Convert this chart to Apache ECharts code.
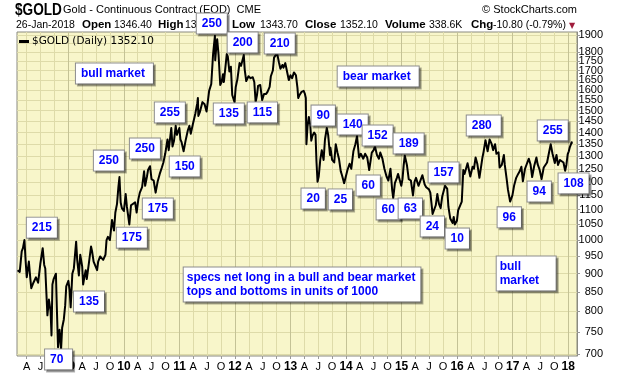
<!DOCTYPE html>
<html><head><meta charset="utf-8">
<script src="https://cdn.jsdelivr.net/npm/echarts@6/dist/echarts.min.js"></script>
<style>html,body{margin:0;padding:0;background:#fff}#c{width:620px;height:376px}</style>
</head><body><div id="c"></div>
<script>
// ---------- data ----------
const dates = [
'2008-02-01','2008-02-15','2008-02-28','2008-03-07','2008-03-17','2008-03-25','2008-04-01','2008-04-15','2008-04-25','2008-05-01','2008-05-15','2008-06-01','2008-06-15','2008-06-30','2008-07-15','2008-07-25','2008-08-01','2008-08-15','2008-08-25','2008-09-05','2008-09-11','2008-09-17','2008-09-25','2008-10-01','2008-10-10','2008-10-16','2008-10-24','2008-11-03','2008-11-13','2008-11-20','2008-12-01','2008-12-10','2008-12-17','2008-12-31',
'2009-01-08','2009-01-15','2009-01-26','2009-02-05','2009-02-20','2009-02-27','2009-03-10','2009-03-19','2009-04-01','2009-04-07','2009-04-15','2009-04-24','2009-05-01','2009-05-15','2009-05-29','2009-06-05','2009-06-15','2009-06-25','2009-07-08','2009-07-15','2009-07-28','2009-08-07','2009-08-17','2009-09-01','2009-09-08','2009-09-17','2009-09-30','2009-10-14','2009-10-27','2009-11-05','2009-11-16','2009-11-25','2009-12-02','2009-12-10','2009-12-18','2009-12-31',
'2010-01-12','2010-01-20','2010-02-05','2010-02-16','2010-03-01','2010-03-15','2010-03-25','2010-04-05','2010-04-15','2010-04-30','2010-05-13','2010-05-20','2010-06-01','2010-06-08','2010-06-21','2010-07-01','2010-07-15','2010-07-28','2010-08-10','2010-08-24','2010-09-07','2010-09-17','2010-09-29','2010-10-14','2010-10-22','2010-11-08','2010-11-16','2010-11-26','2010-12-07','2010-12-15','2010-12-31',
'2011-01-07','2011-01-14','2011-01-28','2011-02-10','2011-02-25','2011-03-07','2011-03-16','2011-03-31','2011-04-15','2011-04-28','2011-05-02','2011-05-05','2011-05-16','2011-06-01','2011-06-15','2011-06-28','2011-07-15','2011-07-29','2011-08-10','2011-08-16','2011-08-22','2011-08-24','2011-08-31','2011-09-06','2011-09-15','2011-09-26','2011-10-05','2011-10-14','2011-10-20','2011-11-08','2011-11-15','2011-11-25','2011-12-05','2011-12-14','2011-12-29',
'2012-01-06','2012-01-17','2012-01-31','2012-02-10','2012-02-28','2012-03-05','2012-03-15','2012-03-30','2012-04-13','2012-04-27','2012-05-07','2012-05-16','2012-05-25','2012-06-01','2012-06-15','2012-06-28','2012-07-10','2012-07-24','2012-08-02','2012-08-16','2012-08-24','2012-09-06','2012-09-14','2012-09-25','2012-10-04','2012-10-16','2012-10-26','2012-11-08','2012-11-15','2012-11-27','2012-12-07','2012-12-20','2012-12-31',
'2013-01-11','2013-01-23','2013-02-05','2013-02-15','2013-02-20','2013-03-01','2013-03-14','2013-03-28','2013-04-05','2013-04-11','2013-04-12','2013-04-15','2013-04-22','2013-05-01','2013-05-10','2013-05-17','2013-05-24','2013-06-05','2013-06-14','2013-06-20','2013-06-27','2013-07-05','2013-07-15','2013-07-25','2013-08-06','2013-08-15','2013-08-27','2013-09-05','2013-09-17','2013-09-20','2013-10-01','2013-10-15','2013-10-25','2013-11-05','2013-11-15','2013-11-27','2013-12-05','2013-12-19','2013-12-31',
'2014-01-10','2014-01-24','2014-02-04','2014-02-18','2014-03-03','2014-03-14','2014-03-27','2014-04-08','2014-04-24','2014-05-06','2014-05-20','2014-06-02','2014-06-19','2014-07-01','2014-07-10','2014-07-23','2014-08-05','2014-08-14','2014-08-28','2014-09-10','2014-09-24','2014-10-06','2014-10-20','2014-10-31','2014-11-07','2014-11-18','2014-12-01','2014-12-09','2014-12-30',
'2015-01-07','2015-01-15','2015-01-22','2015-02-05','2015-02-17','2015-03-03','2015-03-17','2015-03-27','2015-04-06','2015-04-22','2015-05-05','2015-05-18','2015-06-02','2015-06-12','2015-06-30','2015-07-09','2015-07-20','2015-07-24','2015-08-05','2015-08-14','2015-08-24','2015-09-04','2015-09-15','2015-09-25','2015-10-14','2015-10-28','2015-11-05','2015-11-17','2015-12-03','2015-12-10','2015-12-17','2015-12-31',
'2016-01-08','2016-01-20','2016-02-01','2016-02-11','2016-02-19','2016-03-01','2016-03-10','2016-03-17','2016-03-28','2016-04-12','2016-04-21','2016-05-02','2016-05-13','2016-05-27','2016-06-08','2016-06-16','2016-06-24','2016-07-06','2016-07-20','2016-08-02','2016-08-16','2016-08-25','2016-09-07','2016-09-16','2016-09-30','2016-10-07','2016-10-21','2016-11-04','2016-11-10','2016-11-22','2016-12-01','2016-12-15','2016-12-30',
'2017-01-10','2017-01-24','2017-02-06','2017-02-16','2017-02-27','2017-03-09','2017-03-23','2017-04-05','2017-04-17','2017-04-28','2017-05-09','2017-05-22','2017-06-06','2017-06-14','2017-06-27','2017-07-10','2017-07-24','2017-08-04','2017-08-15','2017-08-28','2017-09-08','2017-09-20','2017-10-05','2017-10-16','2017-10-26','2017-11-08','2017-11-21','2017-12-01','2017-12-12','2017-12-20','2017-12-29',
'2018-01-05','2018-01-12','2018-01-19','2018-01-24','2018-01-26'
];
const closes = [
910,905,965,975,1000,935,890,935,885,860,875,890,875,930,975,925,915,790,830,800,742,870,885,880,900,810,715,755,710,760,780,815,865,880,
855,810,900,915,995,940,895,955,920,870,890,910,885,930,980,965,935,940,910,935,950,955,940,955,1000,1010,1000,1065,1030,1090,1120,1180,1218,1125,1105,1095,
1155,1110,1050,1115,1120,1125,1090,1135,1160,1180,1240,1185,1220,1245,1260,1210,1205,1160,1200,1230,1255,1275,1310,1370,1325,1420,1340,1365,1430,1390,1420,
1370,1360,1320,1365,1410,1430,1395,1440,1485,1535,1560,1475,1495,1540,1530,1495,1595,1630,1790,1785,1895,1755,1830,1875,1785,1625,1640,1680,1640,1790,1775,1695,1720,1575,1540,
1615,1655,1740,1725,1785,1705,1645,1670,1660,1665,1640,1540,1575,1620,1625,1550,1580,1580,1590,1615,1670,1700,1770,1760,1795,1745,1710,1730,1715,1740,1700,1650,1675,
1660,1690,1675,1610,1560,1575,1590,1595,1580,1560,1500,1350,1425,1470,1435,1365,1385,1400,1390,1280,1200,1220,1285,1325,1285,1370,1420,1390,1305,1335,1285,1275,1350,1315,1290,1240,1225,1195,1202,
1245,1270,1250,1320,1350,1385,1295,1310,1290,1310,1295,1245,1315,1325,1340,1305,1290,1315,1290,1250,1220,1205,1250,1170,1140,1195,1215,1230,1185,
1210,1265,1303,1265,1210,1205,1150,1200,1215,1185,1190,1225,1190,1180,1172,1160,1105,1085,1090,1115,1155,1120,1105,1145,1185,1175,1110,1070,1055,1075,1050,1062,
1097,1100,1128,1245,1230,1232,1272,1265,1220,1258,1250,1295,1270,1215,1262,1295,1320,1367,1320,1370,1350,1325,1350,1310,1316,1255,1265,1305,1265,1212,1170,1128,1150,
1185,1215,1230,1240,1258,1202,1250,1255,1290,1268,1218,1260,1295,1268,1246,1210,1255,1258,1275,1315,1350,1310,1273,1305,1265,1285,1280,1275,1242,1265,1309,
1320,1338,1332,1358,1352.1
];
const yTickValues = [700,750,800,850,900,950,1000,1050,1100,1150,1200,1250,1300,1350,1400,1450,1500,1550,1600,1650,1700,1750,1800,1850,1900];
const monthLetters = {3:'A', 6:'J', 9:'O'};
const xStart = '2008-01-28', xEnd = '2018-02-28';
const priceMin = 700, priceMax = 1900;

// annotation boxes: text, anchor date (box left), anchor price (box top)
const annotTexts = ['bull market','215','70','135','250','175','250','175','255','150','250','135','200','115','210','20','90','25','bear market','140','60','152','60','189','63','24','157','10','280','bull\nmarket','96','94','255','108','specs net long in a bull and bear market\ntops and bottoms in units of 1000'];
const annotDates = ['2009-02-22','2008-04-05','2008-08-03','2009-02-09','2009-06-20','2009-11-18','2010-02-12','2010-05-08','2010-07-26','2010-11-01','2011-04-28','2011-08-18','2011-11-17','2012-03-28','2012-07-18','2013-03-17','2013-05-22','2013-09-12','2013-11-10','2013-11-10','2014-03-14','2014-04-23','2014-07-24','2014-11-13','2014-12-16','2015-05-10','2015-07-01','2015-10-21','2016-03-08','2016-09-21','2016-09-27','2017-04-12','2017-06-18','2017-11-02','2011-02-01'];
const annotPrices = [1735,1071,709,850,1321,1038,1372,1137,1536,1297,2029,1531,1912,1536,1906,1173,1521,1170,1719,1479,1222,1429,1134,1394,1137,1075,1273,1035,1474,948,1106,1199,1452,1230,916];
// box content widths (layout only)
const boxWidths = {'bull market':67, 'bear market':71, 'bull\nmarket':51, '280':24, '70':17};

// ---------- chart ----------
const toMs = s => { const [y,m,d] = s.split('-').map(Number); return Date.UTC(y, m-1, d); };
const xMin = toMs(xStart), xMax = toMs(xEnd);
const pxPerLn = 319.5;
const yMin = Math.log(priceMin) - 2/pxPerLn, yMax = Math.log(priceMax) + 3/pxPerLn;

const quarterTicks = [];
for (let y = 2008; y <= 2018; y++) for (const m of [0,3,6,9]) { const t = Date.UTC(y,m,1); if (t >= xMin && t <= xMax) quarterTicks.push(t); }
const yearTicks = quarterTicks.filter(t => new Date(t).getUTCMonth() === 0);

const lineData = dates.map((d,i) => [toMs(d), Math.log(closes[i])]);
const annotData = annotTexts.map((t,i) => {
  const item = {value:[toMs(annotDates[i]), Math.log(annotPrices[i])], name:t};
  if (boxWidths[t]) item.label = {width: boxWidths[t]};
  if (t.indexOf('\n') >= 0) item.label = Object.assign(item.label || {}, {lineHeight:14, padding:[3,5,3,3]});
  return item;
});

const F = '"Liberation Sans", Arial, sans-serif';
const chart = echarts.init(document.getElementById('c'), null, {renderer:'canvas'});

const hdr2 = [
  ['26-Jan-2018',16,false],['Open',82,true],['1346.40',114,false],['High',158,true],['1357.80',185,false],
  ['Low',232,true],['1343.70',260,false],['Close',305,true],['1352.10',340,false],['Volume',385,true],
  ['338.6K',429,false],['Chg',471,true],['-10.80 (-0.79%)',493,false]
];
const graphics = [
  {type:'text', x:15, y:2, scaleX:0.8, z:10, style:{text:'$GOLD', font:'bold 17px '+F, fill:'#000', textVerticalAlign:'top'}},
  {type:'text', x:63, y:4, z:10, style:{text:'Gold - Continuous Contract (EOD)  CME', font:'11px '+F, fill:'#000', textVerticalAlign:'top'}},
  {type:'text', x:577, y:4, z:10, style:{text:'\u00A9 StockCharts.com', font:'11px '+F, fill:'#000', textAlign:'right', textVerticalAlign:'top'}},
  {type:'text', x:569, y:22, z:10, style:{text:'\u25BC', font:'8px "DejaVu Sans"', fill:'#a01c3c', textVerticalAlign:'top'}}
].concat(hdr2.map(h => ({type:'text', x:h[1], y:h[2] ? 19 : 20, z:10,
  style:{text:h[0], font:(h[2] ? 'bold 11.5px ' : '10.5px ')+F, fill:'#000', textVerticalAlign:'top'}})));

chart.setOption({
  animation:false,
  backgroundColor:'#ffffff',
  grid:{left:17, right:43, top:32, bottom:20, show:true, backgroundColor:'#F8F6CA', borderColor:'#8a8a80', borderWidth:1},
  legend:{data:['$GOLD (Daily)'], left:17, top:35, icon:'rect', itemWidth:10, itemHeight:3, padding:[1,2],
    textStyle:{fontSize:10.5, fontFamily:'"DejaVu Sans", sans-serif', color:'#000', padding:[0,0,0,-2]},
    formatter: n => n + ' ' + closes[closes.length-1].toFixed(2)},
  xAxis:[
    {type:'value', min:xMin, max:xMax, position:'bottom',
     axisLine:{show:false},
     axisTick:{show:true, customValues:quarterTicks, length:3, lineStyle:{color:'#999'}},
     axisLabel:{customValues:quarterTicks, margin:5, fontSize:11, fontFamily:F, color:'#000',
       formatter: v => { const d = new Date(v), m = d.getUTCMonth();
         return m === 0 ? '{y|' + String(d.getUTCFullYear()).slice(2) + '}' : (monthLetters[m] || ''); },
       rich:{y:{fontWeight:'bold', fontSize:12, fontFamily:F, color:'#000'}}},
     splitLine:{show:true, lineStyle:{color:'#DEDBA9', width:1}}},
    {type:'value', min:xMin, max:xMax, position:'top', show:true,
     axisLine:{show:false}, axisLabel:{show:false},
     axisTick:{show:false, customValues:yearTicks},
     splitLine:{show:true, lineStyle:{color:'#C4C296', width:1}}}
  ],
  yAxis:{type:'value', position:'right', min:yMin, max:yMax,
    axisLine:{show:true, lineStyle:{color:'#8a8a80'}},
    axisTick:{show:true, customValues:yTickValues.map(Math.log), length:3, lineStyle:{color:'#999'}},
    axisLabel:{customValues:yTickValues.map(Math.log), formatter: v => String(Math.round(Math.exp(v))),
      showMaxLabel:true, showMinLabel:true, hideOverlap:false,
      align:'right', margin:26, fontSize:11, fontFamily:F, color:'#000'},
    splitLine:{show:true, lineStyle:{color:'#DEDBA9', width:1}}},
  graphic:graphics,
  series:[
    {name:'$GOLD (Daily)', type:'line', data:lineData, showSymbol:false, symbol:'none', z:3,
     itemStyle:{color:'#000'}, lineStyle:{color:'#000', width:2, join:'round'}},
    {name:'notes', type:'scatter', data:annotData, symbolSize:1, clip:false, z:10,
     itemStyle:{color:'transparent', opacity:1},
     emphasis:{disabled:true},
     label:{show:true, opacity:1, position:[0,0], align:'left', verticalAlign:'top', formatter: p => p.name,
       color:'#0000FF', fontWeight:'bold', fontSize:12, fontFamily:F, lineHeight:13,
       backgroundColor:'#ffffff', borderColor:'#8c8c8c', borderWidth:1, padding:[4,5,3,5],
       shadowColor:'rgba(0,0,0,0.3)', shadowOffsetX:2, shadowOffsetY:2, shadowBlur:0}}
  ]
});
</script></body></html>
